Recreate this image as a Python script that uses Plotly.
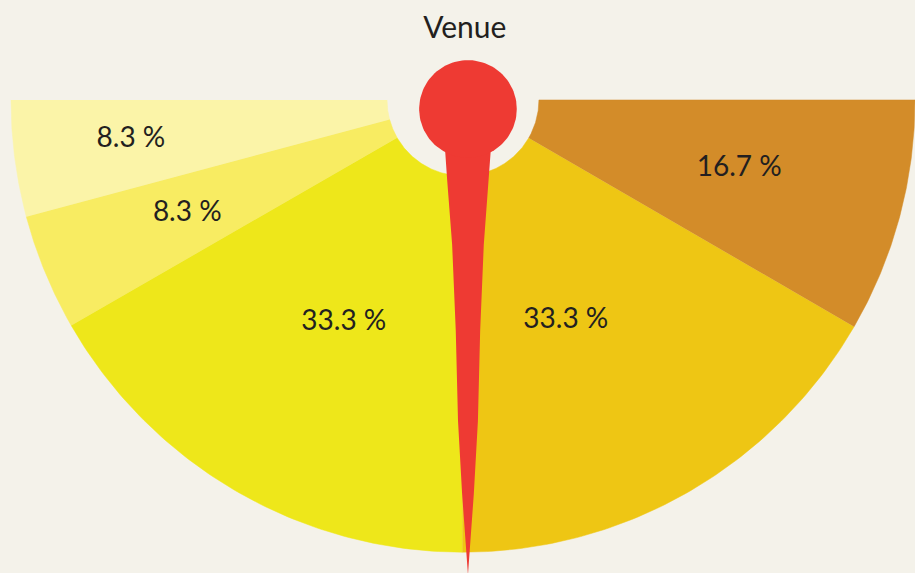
import numpy as np
import plotly.graph_objects as go

# ---- data ----
categories = ["A", "B", "C", "D", "E"]
values = [8.3, 8.3, 33.3, 33.3, 16.7]
labels = ["8.3 %", "8.3 %", "33.3 %", "33.3 %", "16.7 %"]
needle_value = 50.0  # percent along the half dial
title_text = "Venue"

# ---- styles ----
colors = ["#FBF4A8", "#F8EC62", "#EEE71A", "#EEC614", "#D38C29"]
label_radius = [0.74, 0.66, 0.56, 0.54, 0.63]
label_shift = [-0.6, 0.0, 2.0, -5.0, 1.0]   # degrees nudge
bg = "#F4F2EA"
needle_color = "#EE3A33"
hole = 0.168
text_color = "#231F20"
font_family = "Lato, 'Open Sans', sans-serif"

total = sum(values)
fig = go.Figure()

start = 180.0
mids = []
for v, c in zip(values, colors):
    span = v / total * 180.0
    t = np.radians(np.linspace(start, start + span, 80))
    xs = np.concatenate([np.cos(t), hole * np.cos(t[::-1])])
    ys = np.concatenate([np.sin(t), hole * np.sin(t[::-1])])
    fig.add_trace(go.Scatter(x=xs, y=ys, fill="toself", fillcolor=c,
                             mode="lines", line=dict(width=0.5, color=c),
                             hoverinfo="skip", showlegend=False))
    mids.append(start + span / 2)
    start += span

# labels
lx = [r * np.cos(np.radians(m + s)) for r, m, s in zip(label_radius, mids, label_shift)]
ly = [r * np.sin(np.radians(m + s)) for r, m, s in zip(label_radius, mids, label_shift)]
fig.add_trace(go.Scatter(x=lx, y=ly, mode="text", text=labels,
                         textfont=dict(size=28, color=text_color, family=font_family),
                         hoverinfo="skip", showlegend=False))

# needle
pivot = (0.011, -0.02)
ang = np.radians(180.0 + needle_value / 100.0 * 180.0)
knob_r = 0.108
prof_d = [0.07, 0.157, 0.30, 0.49, 0.69, 0.85, 1.03]
prof_w = [0.052, 0.046, 0.035, 0.027, 0.022, 0.013, 0.0]
ux, uy = np.cos(ang), np.sin(ang)
px, py = -uy, ux
nx = [pivot[0] + d * ux + w * px for d, w in zip(prof_d, prof_w)]
nx += [pivot[0] + d * ux - w * px for d, w in zip(prof_d[::-1], prof_w[::-1])]
ny = [pivot[1] + d * uy + w * py for d, w in zip(prof_d, prof_w)]
ny += [pivot[1] + d * uy - w * py for d, w in zip(prof_d[::-1], prof_w[::-1])]
fig.add_trace(go.Scatter(x=nx, y=ny, fill="toself", fillcolor=needle_color,
                         mode="lines", line=dict(width=0, color=needle_color),
                         hoverinfo="skip", showlegend=False))
kt = np.linspace(0, 2 * np.pi, 120)
fig.add_trace(go.Scatter(x=pivot[0] + knob_r * np.cos(kt), y=pivot[1] + knob_r * np.sin(kt),
                         fill="toself", fillcolor=needle_color, mode="lines",
                         line=dict(width=0, color=needle_color),
                         hoverinfo="skip", showlegend=False))

fig.update_layout(
    width=915, height=573,
    margin=dict(l=0, r=0, t=0, b=0),
    paper_bgcolor=bg, plot_bgcolor=bg,
    xaxis=dict(range=[-1.0243, 1.0], visible=False, fixedrange=True),
    yaxis=dict(range=[-1.046, 0.221], visible=False, fixedrange=True),
    title=dict(text=title_text, x=0.508, xanchor="center", y=0.952, yanchor="middle",
               font=dict(size=30, color=text_color, family=font_family)),
)

fig.write_html("out.html", config={"displayModeBar": False, "staticPlot": True},
               post_script="document.body.style.margin='0';document.body.style.overflow='hidden';")
